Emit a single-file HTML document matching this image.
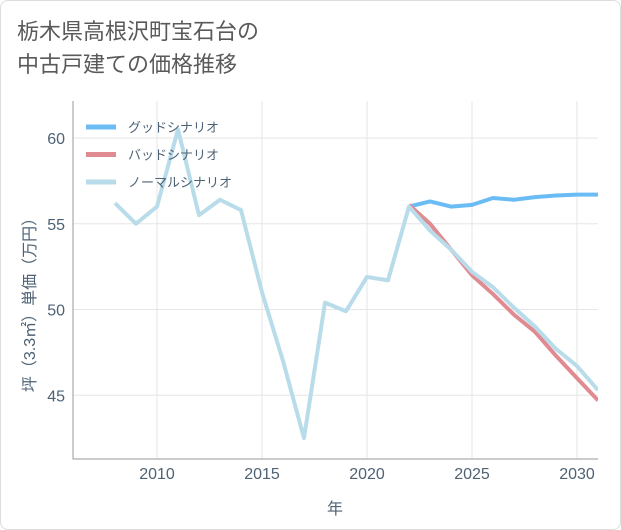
<!DOCTYPE html>
<html><head><meta charset="utf-8"><style>
body{margin:0;background:#fff}
#wrap{position:relative;width:619px;height:528px;border:1px solid #ddd;border-radius:8px;overflow:hidden;font-family:"Liberation Sans","Noto Sans CJK JP",sans-serif}
#title{position:absolute;left:16px;top:14px;font-size:22px;line-height:33px;color:#5a5a5a}
</style></head><body>
<div id="wrap">
<div id="title">栃木県高根沢町宝石台の<br>中古戸建ての価格推移</div>
<svg id="svg" width="621" height="530" style="position:absolute;left:0;top:0"></svg>
</div>
<script>
const normalYears=[2008,2009,2010,2011,2012,2013,2014,2015,2016,2017,2018,2019,2020,2021,2022,2023,2024,2025,2026,2027,2028,2029,2030,2031];
const normalVals=[56.2,55.0,56.0,60.5,55.5,56.4,55.8,51.0,47.0,42.5,50.4,49.9,51.9,51.7,56.0,54.6,53.5,52.2,51.3,50.1,49.0,47.7,46.7,45.3];
const futureYears=[2022,2023,2024,2025,2026,2027,2028,2029,2030,2031];
const goodVals=[56.0,56.3,56.0,56.1,56.5,56.4,56.55,56.65,56.7,56.7];
const badVals=[56.1,55.0,53.5,52.0,50.9,49.7,48.7,47.3,46.0,44.7];
const xTicks=[2010,2015,2020,2025,2030];
const yTicks=[45,50,55,60];
const legendLabels=["グッドシナリオ","バッドシナリオ","ノーマルシナリオ"];
const colors=["#6bbcf5","#e08a92","#b8dcea"];
const X0=72,X1=597,Y0=100,Y1=458;
const LBL='#4e6275';
const x=v=>156+(v-2010)*21;
const y=v=>137+(60-v)*17.15;
const svg=document.getElementById('svg');
const NS='http://www.w3.org/2000/svg';
function mk(t,a,p){const e=document.createElementNS(NS,t);for(const k in a)e.setAttribute(k,a[k]);(p||svg).appendChild(e);return e;}
yTicks.forEach(v=>{const l=mk('line',{x1:X0,x2:X1,y1:y(v),y2:y(v),stroke:'#e6e6e6'});
const t=mk('text',{x:X0-8,y:y(v)+6,'text-anchor':'end','font-size':16,fill:LBL});t.textContent=v;});
xTicks.forEach(v=>{const l=mk('line',{x1:x(v),x2:x(v),y1:Y0,y2:Y1,stroke:'#e6e6e6'});
const t=mk('text',{x:x(v),y:Y1+20,'text-anchor':'middle','font-size':16,fill:LBL});t.textContent=v;});
const ax=mk('path',{d:`M${X0} ${Y0}V${Y1}H${X1}`,fill:'none',stroke:'#999'});
const xt=mk('text',{x:334,y:513,'text-anchor':'middle','font-size':16,fill:LBL});xt.textContent='年';
const yt=mk('text',{x:0,y:0,'text-anchor':'middle','font-size':16,fill:LBL,transform:`translate(34,300) rotate(-90)`});yt.textContent='坪（3.3㎡）単価（万円）';
const clip=mk('clipPath',{id:'c'});mk('rect',{x:X0,y:Y0-20,width:X1-X0,height:Y1-Y0+20},clip);
function line(xs,vs,c,name){const p=mk('polyline',{points:xs.map((yr,i)=>x(yr)+','+y(vs[i])).join(' '),fill:'none',stroke:c,'stroke-width':4,'stroke-linejoin':'round','clip-path':'url(#c)'});}
line(futureYears,goodVals,colors[0],'good-scenario-line');
line(futureYears,badVals,colors[1],'bad-scenario-line');
line(normalYears,normalVals,colors[2],'normal-scenario-line');
legendLabels.forEach((s,i)=>{const yy=126+i*27.5;const g=mk('g',{});
mk('line',{x1:85,x2:115,y1:yy,y2:yy,stroke:colors[i],'stroke-width':5},g);
const t=mk('text',{x:127,y:yy+5,'font-size':13,fill:LBL},g);t.textContent=s;});
</script>
</body></html>
